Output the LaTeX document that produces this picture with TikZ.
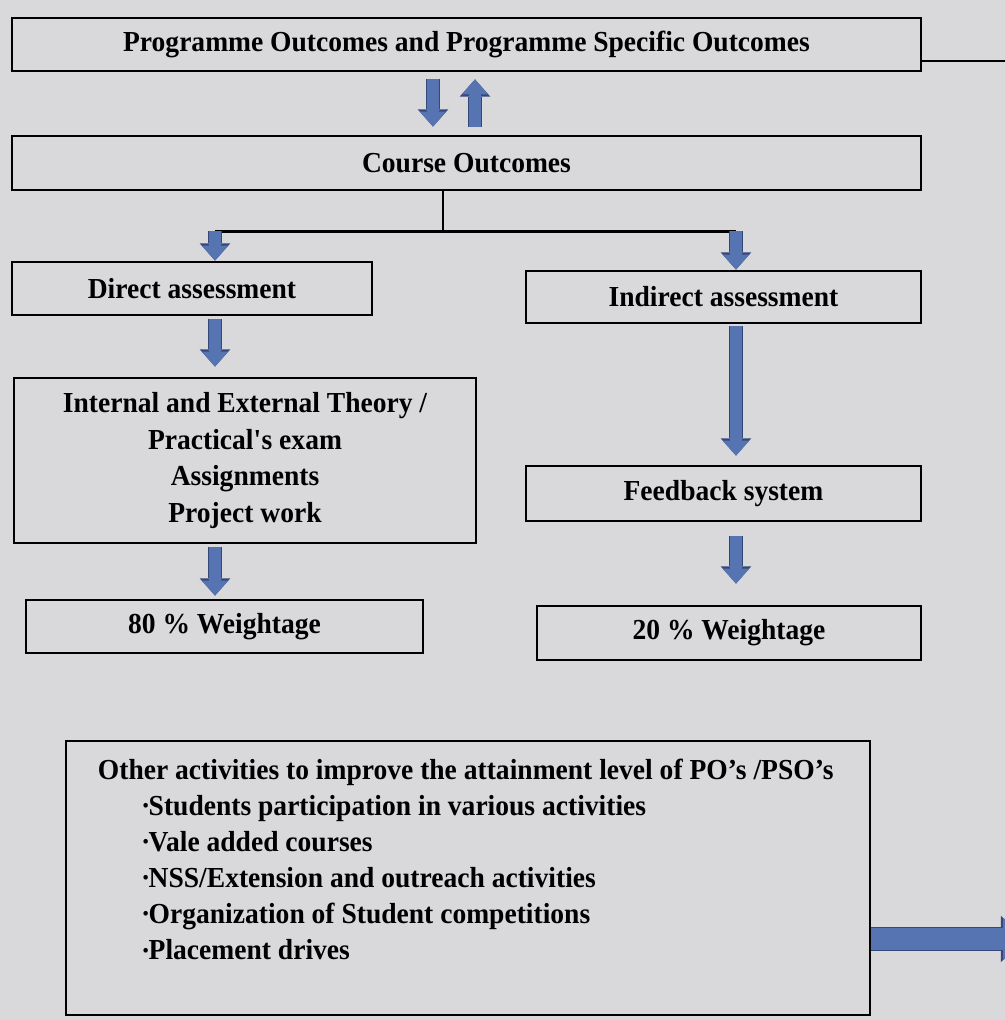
\documentclass[tikz,border=0pt]{standalone}
\usepackage{fontspec}
\setmainfont{Liberation Serif}[FakeStretch=0.95]
\usetikzlibrary{arrows.meta,calc}

\definecolor{paper}{RGB}{217,217,220}
\definecolor{arrowblue}{RGB}{86,116,178}
\definecolor{arrowedge}{RGB}{52,72,122}
\newcommand{\dotitem}{\raisebox{0.12em}{\scalebox{0.6}{•}}}

\begin{document}
\begin{tikzpicture}[scale=0.2]
        \tikzstyle{every node}+=[inner sep=0pt]
        \tikzstyle{box}=[draw=black, line width=1.6pt, rectangle, align=center, font=\fontsize{16.5}{21}\selectfont\bfseries]
        \tikzstyle{blockarrow}=[draw=arrowblue, line width=7pt, -{Triangle[length=8.5pt,width=15pt,line width=0pt]}, preaction={draw=arrowedge, line width=8.4pt, -{Triangle[length=9.8pt,width=17.4pt,line width=0pt]}}]
        \tikzstyle{wire}=[draw=black, line width=1.3pt]
        \useasboundingbox (0,0) rectangle (100.5,-102);
        \fill [paper] (0,0) rectangle (100.5,-102);
        % boxes
        \node [box, minimum width=18.18cm, minimum height=1.06cm] (po) at (46.65,-4.45) {Programme Outcomes and Programme Specific Outcomes};
        \node [box, minimum width=18.18cm, minimum height=1.08cm] (co) at (46.65,-16.3) {Course Outcomes};
        \node [box, minimum width=7.2cm, minimum height=1.06cm] (da) at (19.2,-28.85) {Direct assessment};
        \node [box, minimum width=7.9cm, minimum height=1.04cm] (ia) at (72.35,-29.7) {Indirect assessment};
        \node [box, minimum width=9.24cm, minimum height=3.3cm] (ie) at (24.5,-46.05) {Internal and External Theory /\\Practical\textquotesingle s exam\\Assignments\\Project work};
        \node [box, minimum width=7.9cm, minimum height=1.1cm] (fb) at (72.35,-49.35) {Feedback system};
        \node [box, minimum width=7.94cm, minimum height=1.06cm] (w80) at (22.45,-62.65) {80 \% Weightage};
        \node [box, minimum width=7.68cm, minimum height=1.08cm] (w20) at (72.9,-63.3) {20 \% Weightage};
        \node [box, minimum width=16.08cm, minimum height=5.48cm] (oa) at (46.8,-87.8) {};
        \node [anchor=north west, align=left, font=\fontsize{16.5}{20.5}\selectfont\bfseries] (oatext) at ($(oa.north west)+(3.3,-1.9)$) {Other activities to improve the attainment level of PO’s /PSO’s\\
          \hspace*{0.9cm}\dotitem Students participation in various activities\\
          \hspace*{0.9cm}\dotitem Vale added courses\\
          \hspace*{0.9cm}\dotitem NSS/Extension and outreach activities\\
          \hspace*{0.9cm}\dotitem Organization of Student competitions\\
          \hspace*{0.9cm}\dotitem Placement drives};
        % helper points
        \coordinate (split) at ($(co.south)+(-2.35,-4)$);
        \coordinate (dtop) at ($(da.north)+(2.3,0)$);
        \coordinate (itop) at ($(ia.north)+(1.25,0)$);
        \coordinate (poout) at (100.5,-6.1);
        \coordinate (oaout) at (102.6,-93.9);
        % connectors
        \draw [blockarrow] ($(po.south)+(-3.35,-0.7)$) -- ($(co.north)+(-3.35,0.8)$);
        \draw [blockarrow] ($(co.north)+(0.85,0.8)$) -- ($(po.south)+(0.85,-0.7)$);
        \draw [wire] (po.east |- poout) -- (poout);
        \draw [wire] (co.south -| split) -- (split);
        \draw [wire] (split -| dtop) -- (split -| itop);
        \draw [blockarrow] (split -| dtop) -- (dtop);
        \draw [blockarrow] (split -| itop) -- (itop);
        \draw [blockarrow] ($(da.south -| dtop)+(0,-0.3)$) -- ($(ie.north -| dtop)+(0,1)$);
        \draw [blockarrow] ($(ie.south -| dtop)+(0,-0.3)$) -- ($(w80.north -| dtop)+(0,0.3)$);
        \draw [blockarrow] ($(ia.south -| itop)+(0,-0.2)$) -- ($(fb.north -| itop)+(0,0.9)$);
        \draw [blockarrow] ($(fb.south -| itop)+(0,-1.4)$) -- ($(w20.north -| itop)+(0,2.1)$);
        \draw [blockarrow, line width=12pt, -{Triangle[length=13pt,width=24pt,line width=0pt]}, preaction={draw=arrowedge, line width=13.4pt, -{Triangle[length=14.3pt,width=26.4pt,line width=0pt]}}] (oa.east |- oaout) -- (oaout);
\end{tikzpicture}
\end{document}
